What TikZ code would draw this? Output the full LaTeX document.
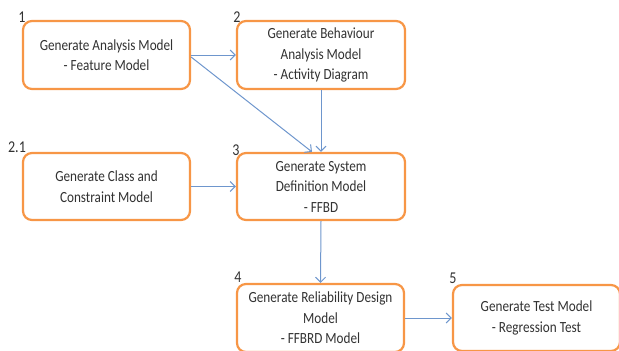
\documentclass[tikz,border=0pt]{standalone}
\usepackage{fontspec}
\newfontfamily\carl[FakeStretch=0.85]{Carlito}
\usetikzlibrary{arrows.meta}
\definecolor{boxorange}{RGB}{247,150,70}
\definecolor{arrowblue}{RGB}{110,150,205}
\definecolor{txtgray}{RGB}{50,50,50}
\tikzset{
  stepbox/.style={draw=boxorange, line width=2.2pt, rounded corners=9pt, fill=white,
    align=center, text=txtgray, inner sep=0pt,
    font=\carl\fontsize{15.5}{20.5}\selectfont},
  numlabel/.style={text=txtgray, inner sep=0pt, font=\carl\fontsize{16.5}{18}\selectfont},
  flow/.style={draw=arrowblue, line width=1pt, -{Straight Barb[length=5pt,width=10pt,line width=1pt]}}
}
\begin{document}
\begin{tikzpicture}[x=1pt,y=-1pt]
\useasboundingbox (0,0) rectangle (619,351);
\node[stepbox, minimum width=167pt, minimum height=68pt] (b1) at (106.5,55) {Generate Analysis Model\\- Feature Model};
\node[stepbox, minimum width=168pt, minimum height=68pt] (b2) at (321,55) {Generate Behaviour\\Analysis Model\\- Activity Diagram};
\node[stepbox, minimum width=167pt, minimum height=67pt] (b21) at (106.5,186.5) {Generate Class and\\Constraint Model};
\node[stepbox, minimum width=168pt, minimum height=67pt] (b3) at (321,186.5) {Generate System\\Definition Model\\- FFBD};
\node[stepbox, minimum width=167pt, minimum height=68pt] (b4) at (320.5,318) {Generate Reliability Design\\Model\\- FFBRD Model};
\node[stepbox, minimum width=167pt, minimum height=66pt] (b5) at (536.5,318) {Generate Test Model\\- Regression Test};
\node[numlabel] (l1) at (22,17) {1};
\node[numlabel] (l2) at (237,17) {2};
\node[numlabel] (l21) at (17,147) {2.1};
\node[numlabel] (l3) at (236,150) {3};
\node[numlabel] (l4) at (238,277) {4};
\node[numlabel] (l5) at (453,278) {5};
\draw[flow] (b1.east) -- (b2.west);
\draw[flow] ([yshift=-2pt]b1.east) -- ([xshift=-9pt]b3.north);
\draw[flow] (b2.south) -- (b3.north);
\draw[flow] (b21.east) -- (b3.west);
\draw[flow] (b3.south) -- (b4.north);
\draw[flow] (b4.east) -- (b5.west);
\end{tikzpicture}
\end{document}
